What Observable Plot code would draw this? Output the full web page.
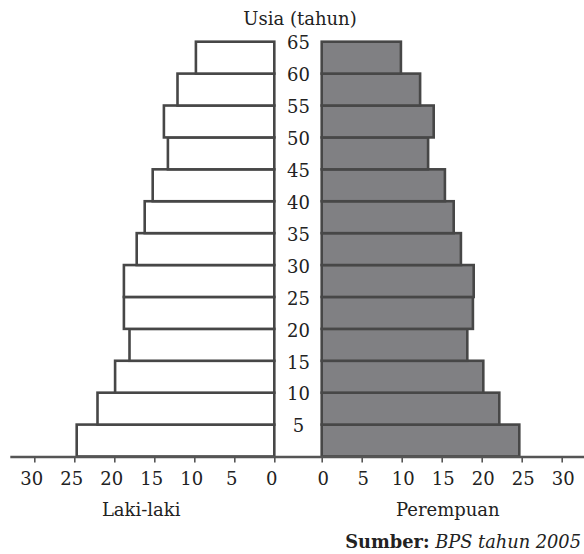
<!DOCTYPE html>
<html>
<head>
<meta charset="utf-8">
<script src="https://cdn.jsdelivr.net/npm/d3@7"></script>
<script src="https://cdn.jsdelivr.net/npm/@observablehq/plot@0.6"></script>
<style>
  body { margin: 0; background: #fff; font-family: "DejaVu Serif", serif; color: #222; width: 584px; height: 554px; overflow: hidden; }
  #title { height: 29px; box-sizing: border-box; padding-top: 8px; padding-left: 16px; line-height: 21px; font-size: 18px; text-align: center; }
  #chart svg { display: block; }
  #caption { font-size: 17.8px; line-height: 21px; text-align: right; padding-right: 3px; padding-top: 6px; }
</style>
</head>
<body>
<div id="title"></div>
<div id="chart"></div>
<div id="caption"></div>
<script>
// ---- data ----
const ageGroups = [0, 5, 10, 15, 20, 25, 30, 35, 40, 45, 50, 55, 60];
const male      = [24.7, 22.1, 19.9, 18.1, 18.8, 18.8, 17.2, 16.2, 15.2, 13.3, 13.8, 12.1, 9.8];
const female    = [24.7, 22.2, 20.2, 18.2, 18.9, 19.0, 17.4, 16.5, 15.4, 13.3, 14.0, 12.3, 9.9];
const ageLabels = [5, 10, 15, 20, 25, 30, 35, 40, 45, 50, 55, 60, 65];
const xTicks    = [0, 5, 10, 15, 20, 25, 30];
const sexNames  = ["Laki-laki", "Perempuan"];
const titleText = "Usia (tahun)";
const sourceLabel = "Sumber:";
const sourceText  = "BPS tahun 2005";

document.getElementById("title").textContent = titleText;
const cap = document.getElementById("caption");
const b = document.createElement("b"); b.textContent = sourceLabel;
const it = document.createElement("i"); it.textContent = sourceText;
cap.append(b, " ", it);

// ---- layout ----
const G = 2.9625;            // half of the central gap, in x units
const ink = "#222";
const edge = "#474747";
const femaleFill = "#808083";
const rows = ageGroups.map((a, i) => ({age: a, male: male[i], female: female[i]}));
const tickRows = [
  ...xTicks.map(t => ({pos: -(G + t), label: String(t), side: "L"})),
  ...xTicks.map(t => ({pos: G + t, label: String(t), side: "R"}))
];
const axisExtent = 33;

const chart = Plot.plot({
  width: 584,
  height: 496,
  marginTop: 12.7,
  marginBottom: 68.5,
  marginLeft: 0,
  marginRight: 0,
  x: {domain: [-37.25, 35.75], axis: null},
  y: {domain: [0, 65], axis: null},
  style: {fontFamily: "DejaVu Serif, serif", background: "white"},
  marks: [
    Plot.rect(rows, {
      x1: () => -G, x2: d => -G - d.male,
      y1: d => d.age, y2: d => d.age + 5,
      fill: "white", stroke: edge, strokeWidth: 2.6
    }),
    Plot.rect(rows, {
      x1: () => G, x2: d => G + d.female,
      y1: d => d.age, y2: d => d.age + 5,
      fill: femaleFill, stroke: edge, strokeWidth: 2.6
    }),
    Plot.ruleY([0], {x1: -(G + axisExtent), x2: G + axisExtent, stroke: "#555", strokeWidth: 2.4}),
    Plot.ruleX(tickRows, {x: "pos", y1: () => 0, y2: () => 0, insetBottom: -6, stroke: "#555", strokeWidth: 1.6}),
    Plot.text(tickRows.filter(d => d.side === "L"), {
      x: "pos", y: () => 0, text: "label", dy: 22.7, dx: -3,
      fontSize: 18, fill: ink, lineAnchor: "middle"
    }),
    Plot.text(tickRows.filter(d => d.side === "R"), {
      x: "pos", y: () => 0, text: "label", dy: 22.7, dx: 1,
      fontSize: 18, fill: ink, lineAnchor: "middle"
    }),
    Plot.text(ageLabels, {
      x: () => 0, y: d => d, text: d => String(d), dy: 1.5,
      fontSize: 18, fill: ink, lineAnchor: "middle"
    }),
    Plot.text([sexNames[0]], {x: () => -(G + 16.7), y: () => 0, text: d => d, dy: 53.2, fontSize: 18, fill: ink, lineAnchor: "middle"}),
    Plot.text([sexNames[1]], {x: () => G + 15.7, y: () => 0, text: d => d, dy: 53.2, fontSize: 18, fill: ink, lineAnchor: "middle"})
  ]
});
document.getElementById("chart").append(chart);
</script>
</body>
</html>
